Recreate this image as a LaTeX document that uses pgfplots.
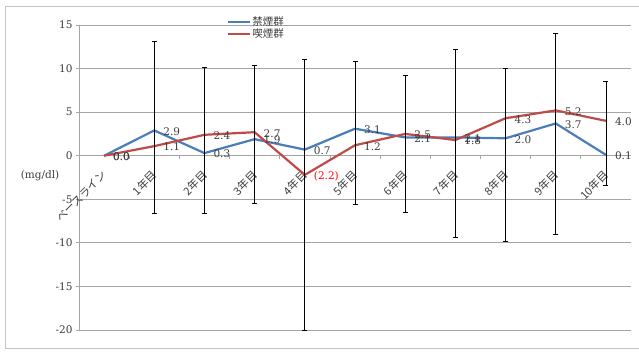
\documentclass[border=0pt]{standalone}
\usepackage{fontspec}
\setmainfont{DejaVu Serif}
\newfontfamily\jp{Noto Sans CJK JP}
\usepackage{pgfplots}
\pgfplotsset{compat=1.18}

\definecolor{quitblue}{RGB}{74,126,187}
\definecolor{smokered}{RGB}{190,75,72}
\definecolor{gridgray}{RGB}{165,165,165}
\definecolor{framegray}{RGB}{195,195,195}
\definecolor{labelgray}{RGB}{60,60,60}

\begin{document}
\begin{tikzpicture}
\useasboundingbox (0,0) rectangle (639pt,351pt);
% chart frame
\draw[framegray, line width=1pt] (640pt,344pt) -- (5pt,344pt) -- (5pt,3pt) -- (640pt,3pt);
% unit note beside the vertical axis
\node[font=\fontsize{10.5}{12}\selectfont, text=labelgray] at (40pt,175pt) {(mg/dl)};

\begin{axis}[
  at={(79pt,21pt)}, anchor=south west,
  scale only axis, width=552pt, height=305pt,
  xmin=-0.5, xmax=10.5, ymin=-20, ymax=15,
  axis x line*=middle, axis y line*=left,
  axis line style={gridgray, line width=0.8pt},
  ytick={-20,-15,...,15},
  ymajorgrids, grid style={gridgray, line width=0.8pt},
  xtick={0,...,10},
  xticklabels={ベースライン,1年目,2年目,3年目,4年目,5年目,6年目,7年目,8年目,9年目,10年目},
  minor xtick={0.5,1.5,...,9.5},
  every major x tick/.append style={draw=none},
  tick align=outside,
  major tick length=3pt, minor tick length=3pt,
  tick style={gridgray, line width=0.8pt},
  xticklabel style={font=\jp\fontsize{11}{12}\selectfont, text=labelgray,
    xshift=3pt, yshift=-12pt, rotate=45, anchor=east},
  yticklabel style={font=\fontsize{10.5}{12}\selectfont, text=labelgray},
  /pgf/number format/assume math mode=true,
  legend style={at={(0.268,1.032)}, anchor=north west, draw=none, fill=none,
    font=\jp\fontsize{10.5}{12}\selectfont, text=labelgray, inner sep=0pt,
    row sep=0pt, nodes={inner sep=1pt}},
  legend cell align=left,
  legend image code/.code={\draw[#1] (0pt,0pt) -- (22pt,0pt);},
  point meta=explicit symbolic,
  nodes near coords,
  every node near coord/.append style={anchor=west, xshift=7pt, yshift=-1pt,
    font=\fontsize{10.5}{12}\selectfont, text=labelgray, inner sep=1pt},
]

% 禁煙群
\addplot[quitblue, line width=2.2pt, mark=none] coordinates {
  (0,0.0)[0.0] (1,2.9)[2.9] (2,0.3)[0.3] (3,1.9)[1.9] (4,0.7)[0.7]
  (5,3.1)[3.1] (6,2.1)[2.1] (7,2.1)[2.1] (8,2.0)[2.0] (9,3.7)[3.7] (10,0.1)[0.1]
};
\addlegendentry{禁煙群}

% 喫煙群
\addplot[smokered, line width=2.2pt, mark=none] coordinates {
  (0,0.0)[0.0] (1,1.1)[1.1] (2,2.4)[2.4] (3,2.7)[2.7] (4,-2.2)[{\textcolor{red}{(2.2)}}]
  (5,1.2)[1.2] (6,2.5)[2.5] (7,1.8)[1.8] (8,4.3)[4.3] (9,5.2)[5.2] (10,4.0)[4.0]
};
\addlegendentry{喫煙群}

% spread bars, bottom and top of each year
\addplot[black, line width=0.8pt, mark=-, mark size=2.5pt, unbounded coords=jump,
  nodes near coords={}, forget plot] coordinates {
  (1,-6.6) (1,13.1) (1,nan)
  (2,-6.6) (2,10.1) (2,nan)
  (3,-5.5) (3,10.4) (3,nan)
  (4,-20.0) (4,11.1) (4,nan)
  (5,-5.6) (5,10.8) (5,nan)
  (6,-6.5) (6,9.2) (6,nan)
  (7,-9.4) (7,12.2) (7,nan)
  (8,-9.8) (8,10.0) (8,nan)
  (9,-9.0) (9,14.0) (9,nan)
  (10,-3.4) (10,8.5)
};
\end{axis}
\end{tikzpicture}
\end{document}
